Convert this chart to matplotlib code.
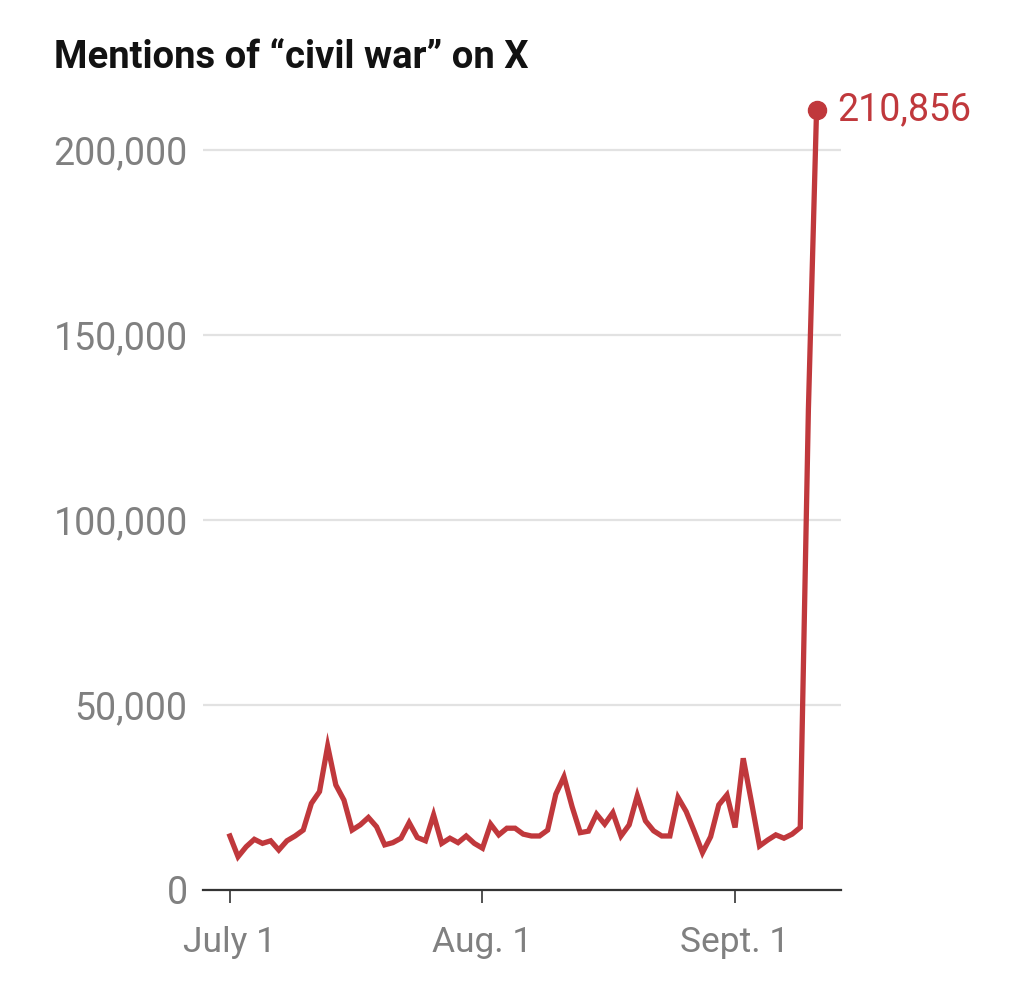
import numpy as np
import matplotlib
matplotlib.use('Agg')
import matplotlib.pyplot as plt

# daily mentions, July 1 .. Sept 11
july = [14600, 9000, 11700, 13700, 12600, 13300, 10800, 13300, 14600, 16200,
        23400, 26600, 38900, 28400, 24300, 16200, 17600, 19600, 17100, 12200,
        12800, 14000, 18200, 14200, 13300, 20300, 12600, 14000, 12800, 14600,
        12600]
august = [11300, 17800, 14900, 16700, 16700, 15100, 14600, 14600, 16200, 25900,
          30600, 22500, 15500, 15900, 20500, 17800, 20900, 14600, 17600, 25500,
          18700, 16000, 14600, 14600, 25000, 21200, 15800, 10100, 14400, 23000,
          25700]
september = [16900, 35600, 23900, 11900, 13500, 14900, 14000, 15100, 16900, 130000,
             210856]
values = july + august + september
days = np.arange(len(values))

tick_days = [0, 31, 62]
tick_labels = ['July 1', 'Aug. 1', 'Sept. 1']
y_ticks = [0, 50000, 100000, 150000, 200000]

red = '#c0383c'
gray = '#808080'

fig = plt.figure(figsize=(10.24, 10.07), dpi=100)
ax = fig.add_axes([203 / 1024, 117 / 1007, 638 / 1024, 795.5 / 1007])

ax.plot(days, values, color=red, lw=3.8, solid_joinstyle='miter', zorder=3)
ax.plot(days[-1], values[-1], 'o', color=red, ms=13, clip_on=False, zorder=4)
ax.annotate(f'{values[-1]:,}', (days[-1], values[-1]), xytext=(15, 0),
            textcoords='offset points', color=red, fontsize=27,
            family='Roboto', va='center', ha='left', annotation_clip=False)

ax.set_xlim(-3.3, 75)
ax.set_ylim(0, 215000)

ax.set_yticks(y_ticks)
ax.set_yticklabels([f'{v:,}' for v in y_ticks])
ax.yaxis.grid(True, color='#e2e2e2', lw=1.6)
ax.set_axisbelow(True)
ax.tick_params(axis='y', length=0, pad=11, labelsize=27, labelcolor=gray)

ax.set_xticks(tick_days)
ax.set_xticklabels(tick_labels)
ax.tick_params(axis='x', length=9, width=1.2, color='#333333', pad=17,
               labelsize=25.5, labelcolor=gray)

for lab in ax.get_xticklabels() + ax.get_yticklabels():
    lab.set_family('Roboto')

for s in ['top', 'right', 'left']:
    ax.spines[s].set_visible(False)
ax.spines['bottom'].set_color('#333333')
ax.spines['bottom'].set_linewidth(1.6)

fig.text(54 / 1024, 1 - 68 / 1007, 'Mentions of \u201ccivil war\u201d on X',
         fontsize=27.5, fontweight='bold', color='#121212',
         family='Roboto', va='baseline')

fig.savefig('out.png', dpi=100, facecolor='white')
